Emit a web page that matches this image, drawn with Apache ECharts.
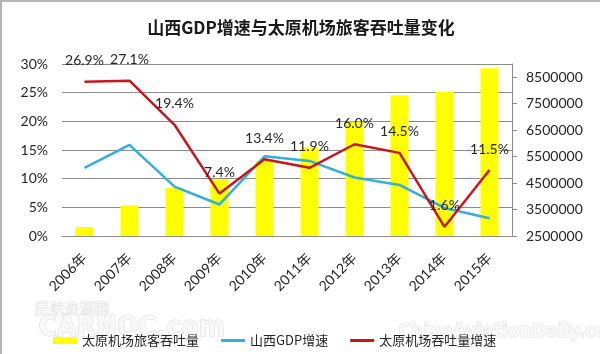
<!DOCTYPE html>
<html>
<head>
<meta charset="utf-8">
<script src="https://cdn.jsdelivr.net/npm/echarts@6/dist/echarts.min.js"></script>
<style>
  html, body { margin: 0; padding: 0; background: #fff; }
  #chart { width: 600px; height: 354px; box-sizing: border-box; border-top: 2px solid #b4b4b4; border-left: 2px solid #b4b4b4; }
</style>
</head>
<body>
<div id="chart"></div>
<script>
// 年份
const years = ['2006年', '2007年', '2008年', '2009年', '2010年', '2011年', '2012年', '2013年', '2014年', '2015年']
// 太原机场旅客吞吐量（人次）
const passengers = [2840000, 3650000, 4320000, 4650000, 5330000, 5840000, 6820000, 7820000, 7950000, 8840000]
// 山西GDP增速（%）
const gdpGrowth = [11.9, 15.9, 8.6, 5.5, 13.9, 13.1, 10.2, 8.9, 4.9, 3.1]
// 太原机场吞吐量增速（%）
const airportGrowth = [26.9, 27.1, 19.4, 7.4, 13.4, 11.9, 16.0, 14.5, 1.6, 11.5]

const seriesNames = ['太原机场旅客吞吐量', '山西GDP增速', '太原机场吞吐量增速']

const font = 'Lato, "Noto Sans CJK SC", sans-serif'
const textColor = '#262626'
const gridColor = '#8c8c8c'

const chart = echarts.init(document.getElementById('chart'))

chart.setOption({
  animation: false,
  textStyle: { fontFamily: font },
  title: {
    text: '山西GDP增速与太原机场旅客吞吐量变化',
    left: 'center',
    top: 12,
    textStyle: { fontSize: 17, fontWeight: 'bold', color: '#1a1a1a', fontFamily: '"Noto Sans CJK SC", sans-serif' },
  },
  legend: {
    left: 46,
    top: 327,
    itemWidth: 24,
    itemHeight: 8,
    itemGap: 22,
    textStyle: { fontSize: 13, color: textColor, fontFamily: '"Noto Sans CJK SC", sans-serif' },
    data: [
      { name: seriesNames[0], icon: 'path://M0 0H24V7H0Z' },
      { name: seriesNames[1], icon: 'path://M0 0H24V3H0Z' },
      { name: seriesNames[2], icon: 'path://M0 0H24V3H0Z' },
    ],
  },
  grid: {
    left: 60,
    right: 88,
    top: 62,
    bottom: 118,
  },
  xAxis: {
    type: 'category',
    data: years,
    axisLine: { lineStyle: { color: gridColor } },
    axisTick: { show: false },
    axisLabel: {
      rotate: 45,
      fontSize: 14,
      color: textColor,
      margin: 20,
    },
  },
  yAxis: [
    {
      type: 'value',
      min: 0,
      max: 30,
      interval: 5,
      axisLine: { show: false },
      axisTick: { show: false },
      splitLine: { lineStyle: { color: gridColor } },
      axisLabel: { formatter: '{value}%', fontSize: 14, color: textColor, margin: 14 },
    },
    {
      type: 'value',
      min: 2500000,
      max: 9000000,
      interval: 1000000,
      axisLine: { show: true, lineStyle: { color: gridColor } },
      axisTick: { show: true, length: 5, lineStyle: { color: gridColor } },
      splitLine: { show: false },
      axisLabel: { fontSize: 14, color: textColor, margin: 14, showMaxLabel: false, formatter: v => String(v) },
    },
  ],
  series: [
    {
      name: seriesNames[0],
      type: 'bar',
      yAxisIndex: 1,
      barWidth: 18,
      itemStyle: { color: '#ffff00' },
      data: passengers,
    },
    {
      name: seriesNames[1],
      type: 'line',
      yAxisIndex: 0,
      symbol: 'none',
      lineStyle: { color: '#33afd8', width: 2.5 },
      itemStyle: { color: '#33afd8' },
      data: gdpGrowth,
    },
    {
      name: seriesNames[2],
      type: 'line',
      yAxisIndex: 0,
      symbol: 'circle',
      symbolSize: 0,
      lineStyle: { color: '#c8161d', width: 2.5 },
      itemStyle: { color: '#c8161d' },
      label: {
        show: true,
        position: 'top',
        distance: 14,
        fontSize: 14,
        color: textColor,
        formatter: p => p.value.toFixed(1) + '%',
      },
      data: airportGrowth,
    },
  ],
  graphic: [
    { type: 'text', left: 32, top: 298, style: { text: '民航资源网', fill: '#f7f7f7', stroke: '#e0e0e0', lineWidth: 1, font: '15px "Noto Sans CJK SC"' } },
    { type: 'text', left: 36, top: 312, style: { text: 'CARNOC.com', fill: '#f8f8f8', stroke: '#dcdcdc', lineWidth: 1, font: 'bold 28px "DejaVu Sans Condensed"' } },
    { type: 'text', left: 396, top: 320, style: { text: 'ChinaAviationDaily.com', fill: '#f8f8f8', stroke: '#e0e0e0', lineWidth: 1, font: 'bold 19px "DejaVu Sans Condensed"' } },
  ],
})
</script>
</body>
</html>
